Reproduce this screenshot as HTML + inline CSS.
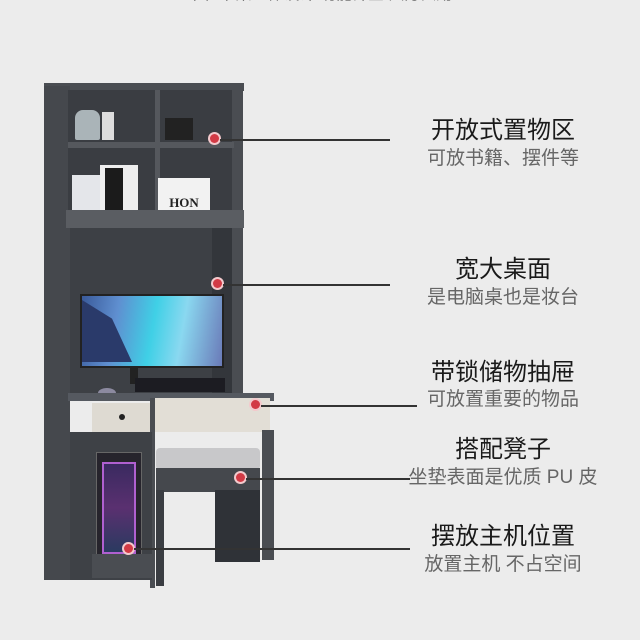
<!DOCTYPE html>
<html><head><meta charset="utf-8"><style>
body{margin:0;width:640px;height:640px;background:#ececec;position:relative;overflow:hidden;font-family:"Liberation Sans","Noto Sans CJK SC",sans-serif}
.a{position:absolute}
.t{position:absolute;width:260px;left:373px;text-align:center;color:#1a1a1a;font-size:24px;line-height:26px}
.s{position:absolute;width:260px;left:373px;text-align:center;color:#666;font-size:19px;line-height:22px}
.ln{position:absolute;height:1.5px;background:#333}
.dot{position:absolute;width:9px;height:9px;border-radius:50%;background:#d23a45;box-shadow:0 0 0 2px #f3c9cc}
</style></head><body>
<div class="a" style="left:90px;top:-14px;width:460px;height:18px;color:#333;font-size:16px;text-align:center;line-height:18px">书柜书桌一体设计 功能齐全 大方实用</div>
<div class="a" style="left:44px;top:83px;width:200px;height:8px;background:#4a4d52"></div>
<div class="a" style="left:44px;top:86px;width:26px;height:494px;background:#45484d"></div>
<div class="a" style="left:68px;top:90px;width:166px;height:122px;background:#3a3d42"></div>
<div class="a" style="left:232px;top:88px;width:11px;height:306px;background:#4a4d52"></div>
<div class="a" style="left:155px;top:90px;width:5px;height:122px;background:#55585d"></div>
<div class="a" style="left:68px;top:142px;width:166px;height:6px;background:#55585d"></div>
<div class="a" style="left:75px;top:110px;width:25px;height:30px;background:#aab4b8;border-radius:8px 8px 2px 2px"></div>
<div class="a" style="left:102px;top:112px;width:12px;height:28px;background:#ddd"></div>
<div class="a" style="left:165px;top:118px;width:28px;height:22px;background:#222"></div>
<div class="a" style="left:72px;top:175px;width:28px;height:36px;background:#e4e6ea"></div>
<div class="a" style="left:100px;top:165px;width:38px;height:46px;background:#eee"></div>
<div class="a" style="left:105px;top:168px;width:18px;height:42px;background:#1b1b1b"></div>
<div class="a" style="left:158px;top:178px;width:52px;height:33px;background:#f2f2f2;font:bold 13px 'Liberation Serif',serif;color:#222;line-height:50px;text-align:center">HON</div>
<div class="a" style="left:66px;top:210px;width:178px;height:18px;background:#5a5d62"></div>
<div class="a" style="left:70px;top:228px;width:162px;height:168px;background:#3d4045"></div>
<div class="a" style="left:212px;top:228px;width:20px;height:168px;background:#33363b"></div>
<div class="a" style="left:80px;top:294px;width:140px;height:70px;background:linear-gradient(100deg,#3a5a9a 0%,#5f8fd0 25%,#3fd0e6 50%,#8ad8f0 70%,#6a7ab8 100%);border:2px solid #222"></div>
<div class="a" style="left:82px;top:300px;width:50px;height:62px;background:#2a3a6a;clip-path:polygon(0 0,60% 30%,100% 100%,0 100%)"></div>
<div class="a" style="left:130px;top:366px;width:8px;height:18px;background:#222"></div>
<div class="a" style="left:135px;top:378px;width:90px;height:14px;background:#1c1c22"></div>
<div class="a" style="left:98px;top:388px;width:18px;height:10px;border-radius:50%;background:#8c8aa0"></div>
<div class="a" style="left:68px;top:393px;width:206px;height:8px;background:#555960"></div>
<div class="a" style="left:92px;top:403px;width:58px;height:30px;background:#dedad2"></div>
<div class="a" style="left:119px;top:414px;width:6px;height:6px;border-radius:50%;background:#222"></div>
<div class="a" style="left:154px;top:398px;width:116px;height:34px;background:#e2ded6"></div>
<div class="a" style="left:150px;top:398px;width:5px;height:190px;background:#4a4d52"></div>
<div class="a" style="left:262px;top:430px;width:12px;height:130px;background:#4a4d52"></div>
<div class="a" style="left:70px;top:432px;width:82px;height:148px;background:#3e4146"></div>
<div class="a" style="left:96px;top:452px;width:44px;height:102px;background:#26242c;border:1px solid #666"></div>
<div class="a" style="left:102px;top:462px;width:30px;height:88px;border:2px solid #b060d0;background:linear-gradient(#3a2a60,#5a3070,#2a3a60)"></div>
<div class="a" style="left:92px;top:554px;width:60px;height:24px;background:#4a4d52"></div>
<div class="a" style="left:156px;top:448px;width:104px;height:22px;background:#c8c8ca;border-radius:4px"></div>
<div class="a" style="left:156px;top:468px;width:104px;height:24px;background:#45484d"></div>
<div class="a" style="left:156px;top:490px;width:8px;height:96px;background:#3a3d42"></div>
<div class="a" style="left:215px;top:490px;width:45px;height:72px;background:#2f3237"></div>
<div class="dot" style="left:210px;top:134px"></div><div class="ln" style="left:220px;top:139px;width:170px"></div>
<div class="dot" style="left:213px;top:279px"></div><div class="ln" style="left:223px;top:284px;width:167px"></div>
<div class="dot" style="left:251px;top:400px"></div><div class="ln" style="left:261px;top:405px;width:156px"></div>
<div class="dot" style="left:236px;top:473px"></div><div class="ln" style="left:246px;top:478px;width:164px"></div>
<div class="dot" style="left:124px;top:544px"></div><div class="ln" style="left:134px;top:548px;width:276px"></div>
<div class="t" style="top:118px">开放式置物区</div><div class="s" style="top:148px">可放书籍、摆件等</div>
<div class="t" style="top:257px">宽大桌面</div><div class="s" style="top:287px">是电脑桌也是妆台</div>
<div class="t" style="top:360px">带锁储物抽屉</div><div class="s" style="top:389px">可放置重要的物品</div>
<div class="t" style="top:437px">搭配凳子</div><div class="s" style="top:467px">坐垫表面是优质 PU 皮</div>
<div class="t" style="top:524px">摆放主机位置</div><div class="s" style="top:554px">放置主机 不占空间</div>
</body></html>
